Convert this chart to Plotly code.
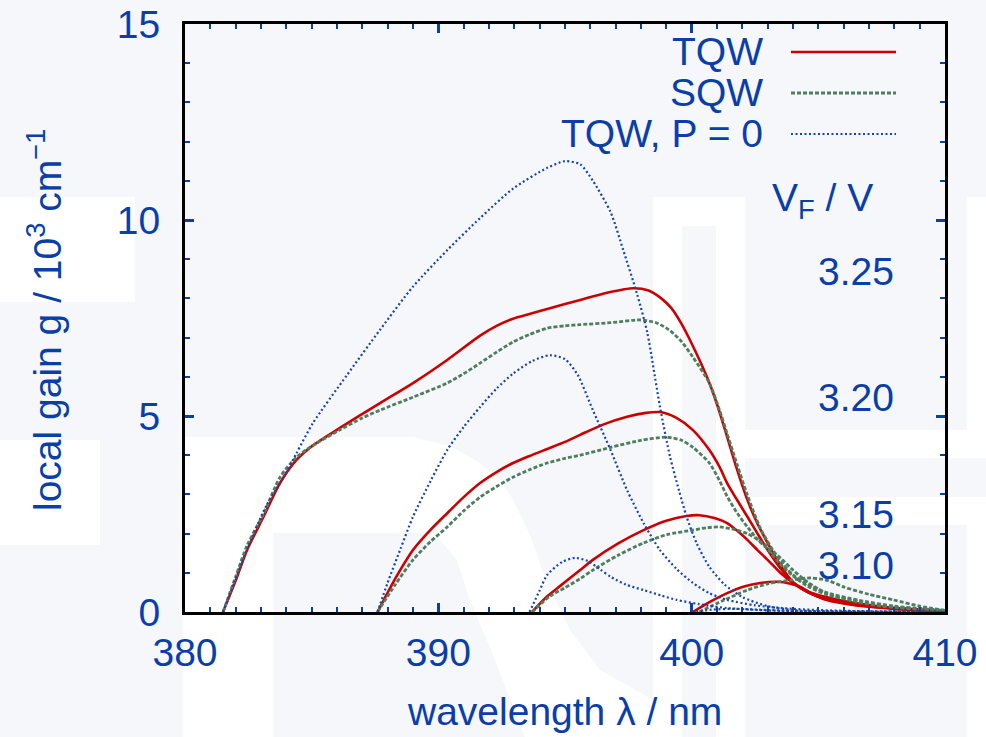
import plotly.graph_objects as go

# ---------------- data ----------------
tqw_325_x = [381.5, 382.0, 382.45, 383.1, 383.75, 384.4, 385.05, 386.1, 387.7, 389.0, 390.35, 391.65, 392.3, 392.95, 393.6, 394.3, 395.6, 396.7, 397.7, 398.3, 398.8, 399.2, 399.6, 400.0, 400.6, 401.0, 401.4, 401.8, 402.2, 402.6, 403.0, 403.5, 404.0, 404.6, 405.3, 406.5, 408.0, 410.0]
tqw_325_y = [0.0, 0.8, 1.58, 2.43, 3.29, 3.88, 4.25, 4.69, 5.33, 5.84, 6.43, 7.05, 7.3, 7.48, 7.6, 7.73, 7.96, 8.15, 8.26, 8.2, 8.0, 7.75, 7.35, 6.85, 6.0, 5.3, 4.47, 3.62, 2.86, 2.25, 1.76, 1.2, 0.76, 0.52, 0.38, 0.22, 0.1, 0.03]

sqw_325_x = [381.5, 382.0, 382.45, 383.1, 383.75, 384.4, 385.05, 386.1, 387.0, 387.7, 389.0, 390.35, 391.0, 391.65, 392.3, 392.95, 393.6, 394.3, 395.0, 395.6, 396.8, 397.96, 398.6, 399.1, 399.6, 400.05, 400.7, 401.1, 401.4, 401.8, 402.2, 402.7, 403.2, 403.6, 404.0, 404.6, 405.3, 406.6, 408.0, 410.0]
sqw_325_y = [0.0, 0.9, 1.7, 2.5, 3.44, 3.95, 4.25, 4.64, 4.95, 5.15, 5.48, 5.84, 6.08, 6.35, 6.63, 6.89, 7.08, 7.24, 7.3, 7.33, 7.38, 7.45, 7.38, 7.2, 6.9, 6.5, 5.84, 5.15, 4.55, 3.75, 2.98, 2.15, 1.58, 1.22, 0.95, 0.7, 0.5, 0.3, 0.15, 0.04]

tqw_320_x = [387.6, 388.3, 389.0, 389.7, 390.35, 391.0, 391.65, 392.3, 392.95, 393.6, 394.3, 395.0, 395.6, 396.5, 397.45, 398.2, 398.75, 399.4, 400.05, 400.7, 401.1, 401.4, 401.8, 402.2, 402.6, 403.0, 403.5, 404.0, 404.6, 405.3, 406.5, 408.0, 410.0]
tqw_320_y = [0.0, 0.85, 1.58, 2.1, 2.52, 2.93, 3.29, 3.57, 3.8, 3.98, 4.16, 4.34, 4.52, 4.78, 4.98, 5.08, 5.1, 4.95, 4.64, 4.13, 3.7, 3.29, 2.85, 2.43, 2.0, 1.58, 1.12, 0.76, 0.5, 0.33, 0.2, 0.09, 0.02]

sqw_320_x = [387.6, 388.3, 389.0, 389.7, 390.35, 391.0, 391.65, 392.3, 392.95, 393.6, 394.3, 395.0, 395.6, 396.8, 398.0, 399.0, 399.6, 400.05, 400.7, 401.1, 401.4, 401.8, 402.2, 402.6, 403.0, 403.5, 404.0, 404.6, 405.3, 406.6, 408.0, 410.0]
sqw_320_y = [0.0, 0.7, 1.33, 1.8, 2.17, 2.58, 2.93, 3.2, 3.44, 3.63, 3.8, 3.92, 4.0, 4.2, 4.38, 4.46, 4.38, 4.2, 3.8, 3.35, 2.95, 2.52, 2.17, 1.85, 1.6, 1.22, 0.92, 0.65, 0.45, 0.27, 0.13, 0.03]

tqw_315_x = [393.7, 394.3, 394.8, 395.6, 396.1, 397.1, 398.1, 399.0, 399.8, 400.3, 400.9, 401.4, 401.8, 402.2, 402.6, 403.0, 403.5, 404.0, 404.6, 405.3, 406.5, 408.0, 410.0]
tqw_315_y = [0.0, 0.4, 0.66, 1.07, 1.33, 1.75, 2.09, 2.33, 2.45, 2.47, 2.4, 2.27, 2.07, 1.84, 1.58, 1.33, 1.0, 0.74, 0.5, 0.33, 0.18, 0.08, 0.02]

sqw_315_x = [393.7, 394.4, 395.0, 395.6, 396.1, 397.1, 398.1, 399.0, 400.05, 400.6, 401.1, 401.7, 402.2, 402.6, 403.0, 403.5, 404.0, 404.6, 405.3, 406.2, 407.5, 410.0]
sqw_315_y = [0.0, 0.4, 0.62, 0.85, 1.07, 1.45, 1.76, 1.97, 2.09, 2.15, 2.17, 2.1, 2.0, 1.85, 1.66, 1.38, 1.07, 0.75, 0.48, 0.3, 0.15, 0.03]

tqw_310_x = [400.05, 400.7, 401.4, 402.0, 402.7, 403.4, 403.9, 404.3, 404.8, 405.3, 406.5, 407.95, 410.0]
tqw_310_y = [0.0, 0.25, 0.48, 0.64, 0.74, 0.77, 0.72, 0.64, 0.45, 0.31, 0.17, 0.1, 0.03]

sqw_310_x = [400.3, 401.2, 402.2, 403.0, 404.0, 404.7, 405.4, 406.0, 407.0, 407.95, 409.0, 410.0]
sqw_310_y = [0.0, 0.28, 0.56, 0.72, 0.82, 0.87, 0.8, 0.64, 0.45, 0.31, 0.15, 0.04]

p0_325_x = [381.5, 382.45, 383.2, 383.9, 384.4, 385.05, 386.4, 387.7, 389.0, 390.35, 391.65, 392.95, 394.3, 395.0, 395.6, 396.1, 396.8, 397.3, 397.85, 398.25, 398.75, 399.15, 399.5, 399.8, 400.2, 400.7, 401.3, 402.0, 403.0, 404.0, 405.0, 410.0]
p0_325_y = [0.0, 1.6, 2.7, 3.44, 4.05, 4.82, 6.05, 7.2, 8.3, 9.23, 10.05, 10.8, 11.33, 11.5, 11.42, 11.0, 10.2, 9.23, 8.1, 7.12, 5.23, 3.95, 3.1, 2.43, 1.75, 1.15, 0.7, 0.38, 0.15, 0.05, 0.02, 0.0]

p0_320_x = [387.6, 388.0, 388.5, 389.0, 389.7, 390.35, 391.0, 391.65, 392.3, 392.95, 393.7, 394.4, 395.0, 395.5, 396.1, 396.8, 397.45, 398.1, 398.75, 399.4, 400.05, 400.7, 401.4, 402.5, 404.0, 406.0, 410.0]
p0_320_y = [0.0, 0.75, 1.6, 2.43, 3.35, 4.13, 4.72, 5.23, 5.7, 6.08, 6.4, 6.55, 6.45, 6.05, 5.15, 4.13, 3.11, 2.27, 1.58, 1.1, 0.74, 0.48, 0.31, 0.17, 0.08, 0.03, 0.0]

p0_315_x = [393.6, 394.0, 394.3, 394.9, 395.4, 395.9, 396.4, 396.8, 397.4, 398.1, 398.8, 399.4, 400.3, 401.4, 403.0, 405.0, 410.0]
p0_315_y = [0.0, 0.55, 0.95, 1.28, 1.38, 1.3, 1.08, 0.9, 0.7, 0.56, 0.42, 0.31, 0.2, 0.1, 0.04, 0.01, 0.0]

p0_310_x = [400.0, 400.8, 401.7, 403.0, 404.5, 410.0]
p0_310_y = [0.0, 0.06, 0.08, 0.05, 0.02, 0.0]

legend_names = ["TQW", "SQW", "TQW, P = 0"]
voltage_labels = ["3.25", "3.20", "3.15", "3.10"]
x_ticks = [380, 390, 400, 410]
y_ticks = [0, 5, 10, 15]

# ---------------- styling ----------------
BLUE = "#0a3ea8"
RED = "#cc0000"
GREEN = "#4f7e5e"
DOT = "#1845a8"
BG = "#f5f7fa"
FONT = "Liberation Sans, Arial, Helvetica, sans-serif"
FS = 39

W, H = 986, 737
L, R, T, B = 185, 945, 24, 612


def px(x):
    return (x - L) / (R - L)


def py(y):
    return (B - y) / (B - T)


fig = go.Figure()

red_sets = [(tqw_325_x, tqw_325_y), (tqw_320_x, tqw_320_y), (tqw_315_x, tqw_315_y), (tqw_310_x, tqw_310_y)]
green_sets = [(sqw_325_x, sqw_325_y), (sqw_320_x, sqw_320_y), (sqw_315_x, sqw_315_y), (sqw_310_x, sqw_310_y)]
blue_sets = [(p0_325_x, p0_325_y), (p0_320_x, p0_320_y), (p0_315_x, p0_315_y), (p0_310_x, p0_310_y)]

for xs, ys in red_sets:
    fig.add_trace(go.Scatter(x=xs, y=ys, mode="lines", name=legend_names[0], showlegend=False,
                             line=dict(color=RED, width=2.6, shape="spline", smoothing=0.7)))
for xs, ys in green_sets:
    fig.add_trace(go.Scatter(x=xs, y=ys, mode="lines", name=legend_names[1], showlegend=False,
                             line=dict(color=GREEN, width=2.8, dash="4px,2px", shape="spline", smoothing=0.7)))
for xs, ys in blue_sets:
    fig.add_trace(go.Scatter(x=xs, y=ys, mode="lines", name=legend_names[2], showlegend=False,
                             line=dict(color=DOT, width=2.2, dash="2px,2.5px", shape="spline", smoothing=0.7)))

# ---------------- background watermark (decorative) ----------------
shapes = []


def rect(x0, y0, x1, y1, color="white"):
    shapes.append(dict(type="rect", xref="paper", yref="paper", x0=px(x0), x1=px(x1), y0=py(y1), y1=py(y0),
                       fillcolor=color, line=dict(width=0), layer="below"))


def poly(points, color="white"):
    d = "M " + " L ".join(f"{px(a):.4f},{py(b):.4f}" for a, b in points) + " Z"
    shapes.append(dict(type="path", xref="paper", yref="paper", path=d, fillcolor=color,
                       line=dict(width=0), layer="below"))


rect(0, 197, 135, 302)
rect(0, 440, 100, 545)
poly([(183, 437), (413, 437), (450, 446), (480, 463), (500, 480), (513, 500), (530, 535), (547, 583),
      (570, 630), (600, 670), (653, 700), (653, 737), (183, 737)])
poly([(273, 533), (420, 533), (440, 540), (457, 560), (470, 600), (495, 660), (525, 737), (273, 737)], BG)
rect(653, 197, 745, 737)
rect(682, 226, 716, 737, BG)
rect(745, 430, 986, 458)
rect(716, 497, 986, 525)
rect(967, 197, 986, 430)
rect(967, 525, 986, 737)

# legend key lines
key_x0, key_x1 = 791, 896
key_rows = [52, 93, 134]
key_styles = [dict(color=RED, width=2.6), dict(color=GREEN, width=2.8, dash="4px,2px"),
              dict(color=DOT, width=2.2, dash="2px,2.5px")]
for yk, st in zip(key_rows, key_styles):
    shapes.append(dict(type="line", xref="paper", yref="paper", x0=px(key_x0), x1=px(key_x1),
                       y0=py(yk), y1=py(yk), line=st))

annotations = []
for name, yk in zip(legend_names, [51, 92, 133]):
    annotations.append(dict(text=name, xref="paper", yref="paper", x=px(765), y=py(yk),
                            xanchor="right", yanchor="middle", showarrow=False,
                            font=dict(family=FONT, size=FS, color=BLUE)))

annotations.append(dict(text="V<sub>F</sub> / V", xref="paper", yref="paper", x=px(822), y=py(200),
                        xanchor="center", yanchor="middle", showarrow=False,
                        font=dict(family=FONT, size=FS, color=BLUE)))
for lab, yk in zip(voltage_labels, [271, 397, 514, 565]):
    annotations.append(dict(text=lab, xref="paper", yref="paper", x=px(896), y=py(yk),
                            xanchor="right", yanchor="middle", showarrow=False,
                            font=dict(family=FONT, size=FS, color=BLUE)))

annotations.append(dict(text="local gain g / 10<sup>3</sup> cm<sup>\u22121</sup>", xref="paper", yref="paper",
                        x=px(44), y=py(320), textangle=-90, xanchor="center", yanchor="middle",
                        showarrow=False, font=dict(family=FONT, size=FS, color=BLUE)))
annotations.append(dict(text="wavelength \u03bb / nm", xref="paper", yref="paper",
                        x=px(564), y=py(711), xanchor="center", yanchor="middle",
                        showarrow=False, font=dict(family=FONT, size=FS, color=BLUE)))

axis_common = dict(showgrid=False, zeroline=False, showline=True, linecolor="black", linewidth=3,
                   mirror="ticks", ticks="inside", tickcolor=BLUE, tickwidth=2.5, ticklen=9,
                   automargin=False, tickfont=dict(family=FONT, size=FS, color=BLUE))

fig.update_layout(
    width=W, height=H,
    margin=dict(l=L, r=W - R, t=T, b=H - B, pad=0, autoexpand=False),
    paper_bgcolor=BG, plot_bgcolor="rgba(0,0,0,0)",
    showlegend=False,
    shapes=shapes, annotations=annotations,
    xaxis=dict(range=[380, 410], tickvals=x_ticks, ticktext=[str(v) for v in x_ticks],
               minor=dict(ticks="inside", dtick=1, ticklen=5, tickwidth=2, tickcolor=BLUE),
               ticklabelstandoff=4, **axis_common),
    yaxis=dict(range=[0, 15], tickvals=y_ticks, ticktext=[str(v) for v in y_ticks],
               minor=dict(ticks="inside", dtick=1, ticklen=5, tickwidth=2, tickcolor=BLUE),
               ticklabelstandoff=14, **axis_common),
)

fig.write_html("out.html", config={"displayModeBar": False},
               post_script="document.body.style.margin='0';document.body.style.padding='0';"
                           "document.body.style.background='" + BG + "';")
